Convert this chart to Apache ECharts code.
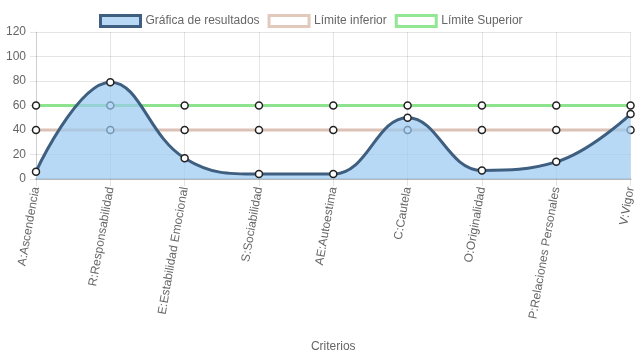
<!DOCTYPE html>
<html><head><meta charset="utf-8">
<script src="https://cdn.jsdelivr.net/npm/echarts@6/dist/echarts.min.js"></script>
<style>html,body{margin:0;padding:0;background:#fff}#c{width:637px;height:359px}</style>
</head><body><div id="c"></div>
<script>
const categories = ["A:Ascendencia","R:Responsabilidad","E:Estabilidad Emocional","S:Sociabilidad","AE:Autoestima","C:Cautela","O:Originalidad","P:Relaciones Personales","V:Vigor"];
const resultados = [6, 79, 17, 4, 4, 50, 7, 14, 53];
const limiteInferior = [40, 40, 40, 40, 40, 40, 40, 40, 40];
const limiteSuperior = [60, 60, 60, 60, 60, 60, 60, 60, 60];
const yTicks = {min: 0, max: 120, interval: 20};

const font = 'Liberation Sans, Arial, sans-serif';
const chart = echarts.init(document.getElementById('c'), null, {renderer: 'canvas'});
const sym = {symbol: 'circle', symbolSize: 7, itemStyle: {color: '#fff', borderColor: '#222', borderWidth: 1.5}};
chart.setOption({
  animation: false,
  textStyle: {fontFamily: font},
  legend: {
    top: 9, left: 94, itemWidth: 40, itemHeight: 11, itemGap: 8, icon: 'rect',
    textStyle: {color: '#666', fontSize: 12, fontFamily: font},
    data: [
      {name: 'Gráfica de resultados', itemStyle: {color: '#b8d8f5', borderColor: '#3e5f80', borderWidth: 3}},
      {name: 'Límite inferior', itemStyle: {color: '#fff', borderColor: '#e3c8bc', borderWidth: 3}},
      {name: 'Límite Superior', itemStyle: {color: '#fff', borderColor: '#92e892', borderWidth: 3}}
    ]
  },
  grid: {left: 36, right: 3, top: 32, bottom: 180, containLabel: false},
  xAxis: {
    type: 'category', data: categories, boundaryGap: false,
    name: 'Criterios', nameLocation: 'middle', nameGap: 162,
    nameTextStyle: {color: '#666', fontSize: 12, fontFamily: font},
    axisLine: {show: true, lineStyle: {color: 'rgba(0,0,0,0.2)', width: 2}},
    axisTick: {show: true, length: 7, lineStyle: {color: 'rgba(0,0,0,0.1)'}},
    splitLine: {show: true, lineStyle: {color: 'rgba(0,0,0,0.1)'}},
    axisLabel: {rotate: 80, color: '#666', fontSize: 12, fontFamily: font, margin: 8, interval: 0}
  },
  yAxis: {
    type: 'value', min: yTicks.min, max: yTicks.max, interval: yTicks.interval,
    axisLine: {show: true, lineStyle: {color: 'rgba(0,0,0,0.1)'}},
    axisTick: {show: true, length: 6, lineStyle: {color: 'rgba(0,0,0,0.1)'}},
    splitLine: {show: true, lineStyle: {color: 'rgba(0,0,0,0.1)'}},
    axisLabel: {color: '#666', fontSize: 12, fontFamily: font, margin: 10}
  },
  series: [
    Object.assign({name: 'Límite inferior', type: 'line', data: limiteInferior, z: 2,
      lineStyle: {color: '#dcc2b6', width: 3}}, sym),
    Object.assign({name: 'Límite Superior', type: 'line', data: limiteSuperior, z: 2,
      lineStyle: {color: '#8ee38e', width: 3}}, sym),
    Object.assign({name: 'Gráfica de resultados', type: 'line', data: resultados, z: 5, smooth: 0.42,
      lineStyle: {color: '#3e5f80', width: 3},
      areaStyle: {color: 'rgba(154,201,241,0.7)', opacity: 1}}, sym)
  ]
});
</script></body></html>
